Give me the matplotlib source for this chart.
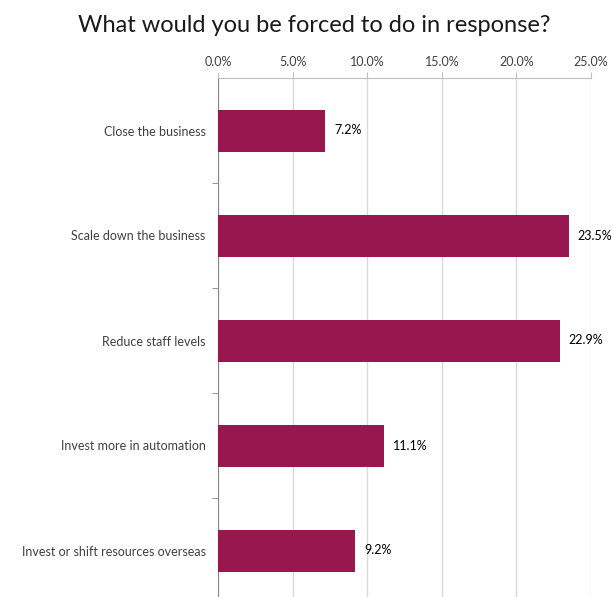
import matplotlib.pyplot as plt
import numpy as np

categories = ["Close the business", "Scale down the business", "Reduce staff levels",
              "Invest more in automation", "Invest or shift resources overseas"]
values = [7.2, 23.5, 22.9, 11.1, 9.2]
xticks = [0, 5, 10, 15, 20, 25]

plt.rcParams['font.family'] = ['Lato', 'DejaVu Sans']

fig = plt.figure(figsize=(6.11, 5.97), dpi=100)
ax = fig.add_axes([218/611, -6/597, (591-218)/611, (603-78)/597])

y = np.arange(len(categories))
ax.barh(y, values, height=0.4, color="#98174F", zorder=3)
for yi, v in zip(y, values):
    ax.text(v + 0.6, yi, "%.1f%%" % v, va="center", ha="left", fontsize=9, color="black")

ax.set_xlim(0, 25)
ax.set_ylim(len(categories) - 0.5, -0.5)
ax.xaxis.tick_top()
ax.set_xticks(xticks)
ax.set_xticklabels(["%.1f%%" % t for t in xticks], fontsize=9, color="#404040")
ax.tick_params(axis="x", length=4, color="#bfbfbf", pad=3)
ax.xaxis.grid(True, color="#d9d9d9", linewidth=1, zorder=0)

ax.set_yticks(y)
ax.set_yticklabels(categories, fontsize=9, color="#404040")
ax.tick_params(axis="y", length=0, pad=9)
ax.set_yticks(np.arange(len(categories)) + 0.5, minor=True)
ax.tick_params(axis="y", which="minor", length=4, color="#868686")

for s in ["right", "bottom"]:
    ax.spines[s].set_visible(False)
ax.spines["top"].set_color("#bfbfbf")
ax.spines["left"].set_color("#868686")

fig.text(0.515, 0.957, "What would you be forced to do in response?", ha="center", va="center",
         fontsize=17, color="#1a1a1a")

fig.savefig("out.png", dpi=100)
